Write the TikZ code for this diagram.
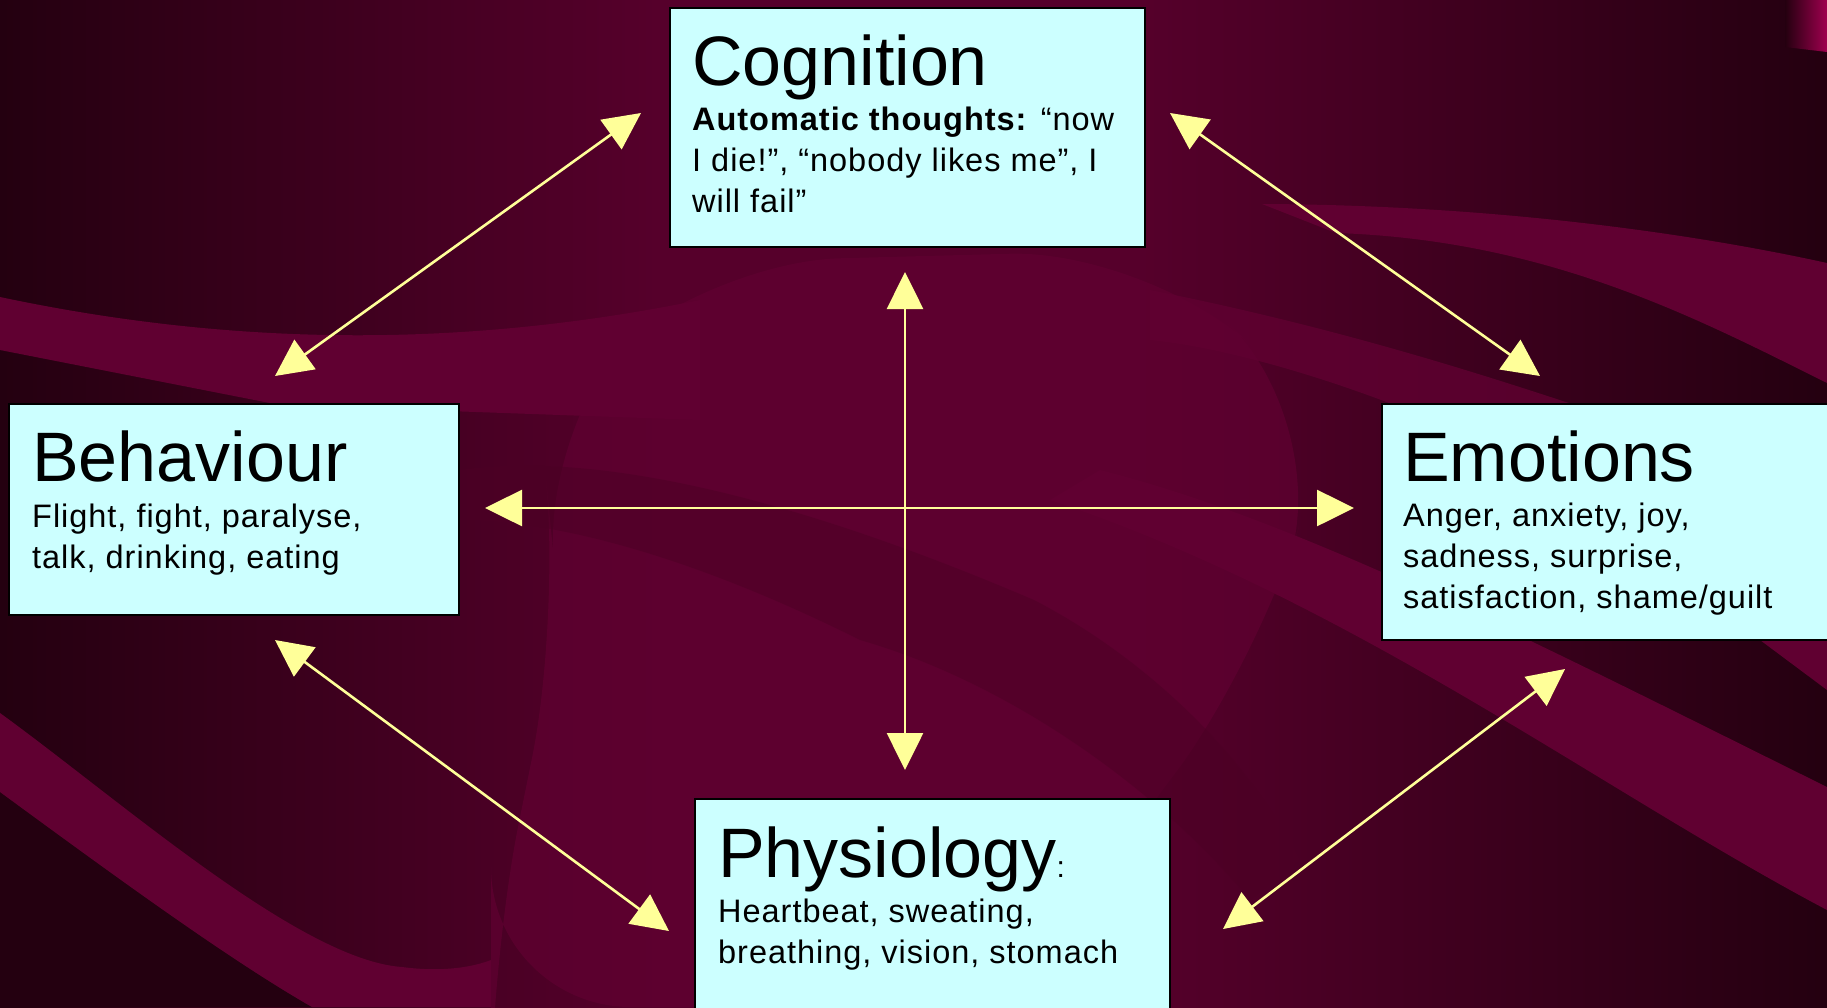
\documentclass[tikz,border=0pt]{standalone}
\usepackage{fontspec}
\setmainfont{Liberation Sans}
\newfontfamily\bodyfont[LetterSpace=3]{Liberation Sans}
\usetikzlibrary{arrows.meta}
\definecolor{slideDark}{HTML}{240010}
\definecolor{slideWine}{HTML}{56002B}
\definecolor{slideBand}{HTML}{600031}
\definecolor{slideShade}{HTML}{4C0025}
\definecolor{slidePink}{HTML}{A0004F}
\definecolor{boxCyan}{HTML}{CCFFFF}
\definecolor{arrowYellow}{HTML}{FFFF99}
\pgfdeclarehorizontalshading{slideBack}{100bp}{color(0bp)=(slideDark); color(25bp)=(slideDark);
  color(43bp)=(slideWine); color(56bp)=(slideWine); color(75bp)=(slideDark); color(100bp)=(slideDark)}

\begin{document}
\begin{tikzpicture}[x=1pt,y=-1pt,
  box/.style={rectangle,draw=black,fill=boxCyan,line width=1.5pt,anchor=north west,inner sep=0pt},
  title/.style={anchor=base west,inner sep=0pt,font=\fontsize{70}{80}\selectfont},
  body/.style={anchor=base west,inner sep=0pt,align=left,font=\bodyfont\fontsize{32.5}{41}\selectfont},
  link/.style={{Triangle[length=37pt,width=36pt]}-{Triangle[length=37pt,width=36pt]},line width=2.6pt,color=arrowYellow}
]
\useasboundingbox (0,0) rectangle (1827,1007);
\clip (0,0) rectangle (1827,1007);

% background swooshes
\shade[shading=slideBack] (0,0) rectangle (1827,1007);
\fill[slideBand,opacity=.7,rounded corners=140pt] (540,420) -- (700,262) -- (1150,250) -- (1330,420) -- (1260,660)
  -- (1000,1007) -- (491,1007) -- (491,960) -- (560,620) -- cycle;
\fill[slideShade,opacity=.5] (460,470) .. controls (600,450) and (800,500) .. (1034,600)
  .. controls (1150,660) and (1250,760) .. (1300,860) -- (1250,900)
  .. controls (1150,780) and (1000,680) .. (860,640) .. controls (700,560) and (560,520) .. (460,520) -- cycle;
\fill[slideBand] (0,297) .. controls (250,350) and (480,345) .. (700,300) -- (700,420) -- (280,405) -- (0,350) -- cycle;
\fill[slideBand] (1262,204) .. controls (1500,205) and (1700,235) .. (1827,263) -- (1827,383)
  .. controls (1700,320) and (1550,240) .. (1336,233) -- cycle;
\fill[slideBand,opacity=.8] (1150,290) .. controls (1350,330) and (1500,380) .. (1620,420) -- (1520,460)
  .. controls (1400,400) and (1250,350) .. (1150,340) -- cycle;
\fill[slideBand] (1100,470) .. controls (1300,520) and (1550,650) .. (1827,787) -- (1827,910)
  .. controls (1600,790) and (1350,600) .. (1050,500) -- cycle;
\fill[slideBand] (1760,640) -- (1827,640) -- (1827,690) -- cycle;
\fill[slideDark] (0,792) .. controls (120,880) and (230,960) .. (312,1007) -- (0,1007) -- cycle;
\fill[slideBand] (0,713) .. controls (120,800) and (300,960) .. (402,967)
  .. controls (440,972) and (470,968) .. (491,960) -- (491,1007) -- (312,1007)
  .. controls (230,960) and (120,880) .. (0,792) -- cycle;
\shade[left color=slideDark,right color=slidePink] (1785,0) -- (1827,0) -- (1827,52) -- (1785,47) -- cycle;

% boxes
\node[box,minimum width=475pt,minimum height=239pt] (cog) at (669,7) {};
\node[box,minimum width=450pt,minimum height=211pt] (beh) at (8,403) {};
\node[box,minimum width=470pt,minimum height=236pt] (emo) at (1381,403) {};
\node[box,minimum width=475pt,minimum height=240pt] (phy) at (694,798) {};

% texts
\node[title] (cogT) at ([shift={(23,78)}]cog.north west) {Cognition};
\node[body] (cogB) at ([shift={(23,205)}]cog.north west) {\textbf{Automatic thoughts:} “now\\I die!”, “nobody likes me”, I\\will fail”};
\node[title] (behT) at ([shift={(24,78)}]beh.north west) {Behaviour};
\node[body] (behB) at ([shift={(24,165)}]beh.north west) {Flight, fight, paralyse,\\talk, drinking, eating};
\node[title] (emoT) at ([shift={(22,78)}]emo.north west) {Emotions};
\node[body] (emoB) at ([shift={(22,205)}]emo.north west) {Anger, anxiety, joy,\\sadness, surprise,\\satisfaction, shame/guilt};
\node[title] (phyT) at ([shift={(24,79)}]phy.north west) {Physiology{\bodyfont\fontsize{30}{41}\selectfont:}};
\node[body] (phyB) at ([shift={(24,165)}]phy.north west) {Heartbeat, sweating,\\breathing, vision, stomach};

% arrow ends
\coordinate (vTop) at (905,272);
\coordinate (vBot) at (905,770);
\coordinate (hLeft) at (485,508);
\coordinate (hRight) at (1354,508);
\coordinate (bcLow) at (275,376);
\coordinate (bcHigh) at (641,113);
\coordinate (ceHigh) at (1170,113);
\coordinate (ceLow) at (1540,376);
\coordinate (bpHigh) at (275,640);
\coordinate (bpLow) at (669,931);
\coordinate (epHigh) at (1565,669);
\coordinate (epLow) at (1223,929);

\draw[link] (vTop) -- (vBot);
\draw[link] (hLeft) -- (hRight);
\draw[link] (bcLow) -- (bcHigh);
\draw[link] (ceHigh) -- (ceLow);
\draw[link] (bpHigh) -- (bpLow);
\draw[link] (epHigh) -- (epLow);
\end{tikzpicture}
\end{document}
